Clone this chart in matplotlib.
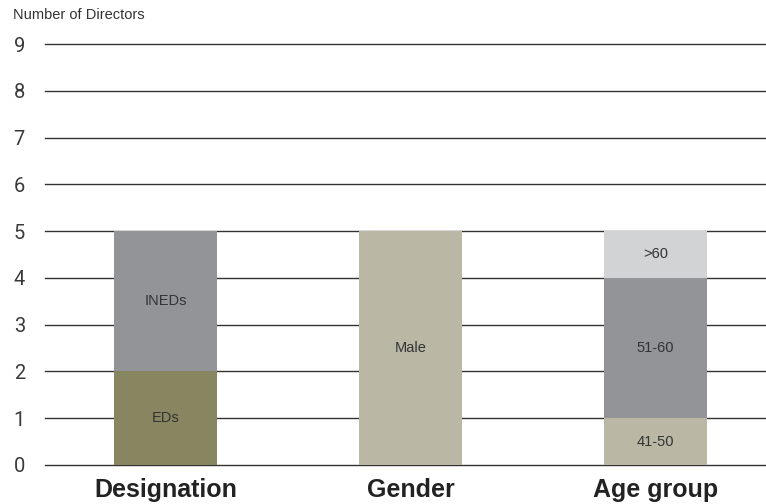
import matplotlib.pyplot as plt

plt.rcParams['font.family'] = ['Liberation Sans', 'DejaVu Sans']

categories = ['Designation', 'Gender', 'Age group']
# segments per category: (label, value, colour)
designation = [('EDs', 2, '#878661'), ('INEDs', 3, '#939498')]
gender = [('Male', 5, '#bab8a5')]
age_group = [('41-50', 1, '#bab8a5'), ('51-60', 3, '#939498'), ('>60', 1, '#d2d3d5')]
yticks = [0, 1, 2, 3, 4, 5, 6, 7, 8, 9]

fig = plt.figure(figsize=(7.66, 5.04), dpi=100)
ax = fig.add_axes([45/766, 39/504, 721/766, 421/504])

for y in yticks:
    ax.axhline(y, color='#333333', linewidth=1.0, zorder=1, clip_on=False)

groups = [designation, gender, age_group]
for i, segs in enumerate(groups):
    bottom = 0
    for lab, v, col in segs:
        ax.bar(i, v, bottom=bottom, width=0.42, color=col, zorder=2)
        ax.text(i, bottom + v/2, lab, ha='center', va='center',
                fontsize=10.5, color='#333333', zorder=3)
        bottom += v

ax.set_xlim(-0.492, 2.451)
ax.set_ylim(0, 9)
ax.set_yticks(yticks)
ax.set_xticks(range(len(categories)))
ax.set_xticklabels(categories, fontsize=18, fontweight='bold', color='#222222')
ax.tick_params(axis='y', length=0, labelcolor='#3a3a3a')
ax.tick_params(axis='x', length=0, pad=9.5)
for lbl in ax.get_yticklabels():
    lbl.set_horizontalalignment('left')
    lbl.set_family(['Roboto', 'Liberation Sans'])
    lbl.set_fontsize(14.5)
ax.tick_params(axis='y', pad=22.5)
for s in ax.spines.values():
    s.set_visible(False)

fig.text(13/766, 1 - 15/504, 'Number of Directors', fontsize=10.5, color='#333333',
         ha='left', va='center')

plt.savefig('out.png')
